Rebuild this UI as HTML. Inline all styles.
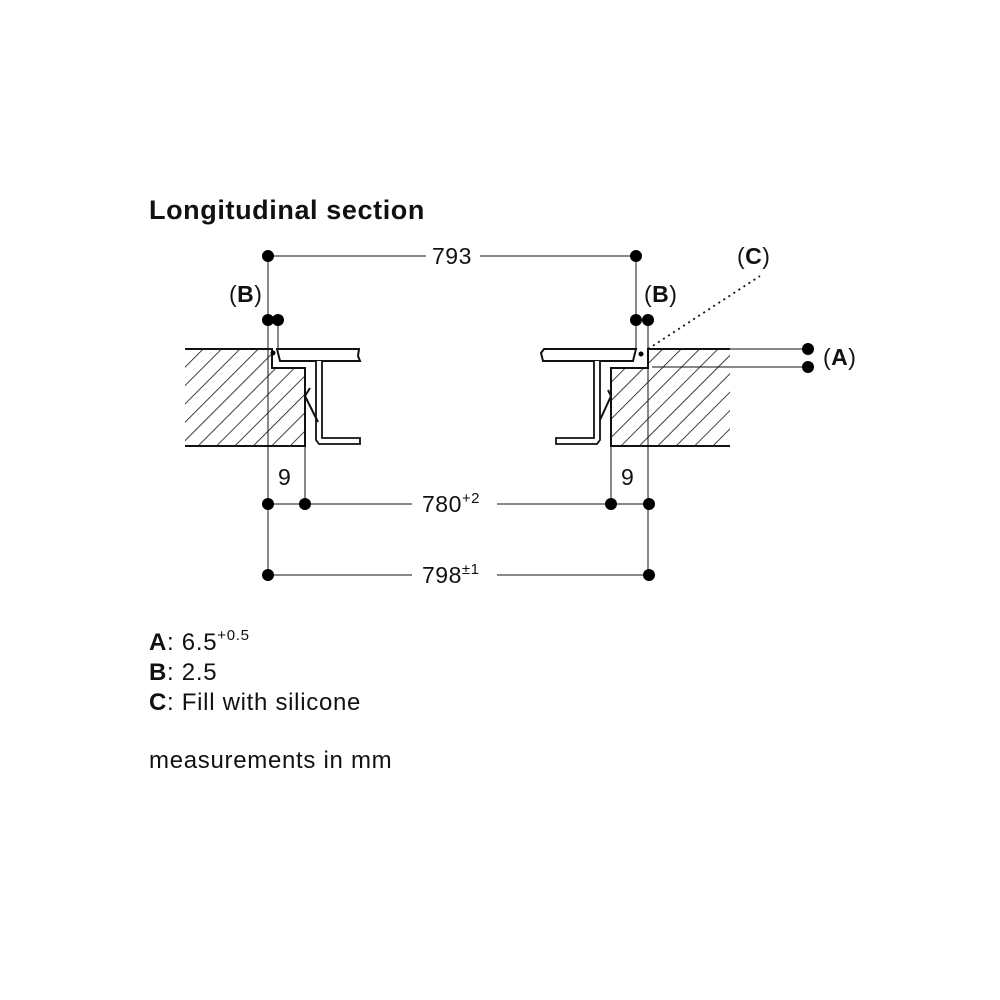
<!DOCTYPE html>
<html><head><meta charset="utf-8"><style>
html,body{margin:0;padding:0;background:#fff;}
svg{display:block;}
text{font-family:"Liberation Sans",sans-serif;fill:#111;}
</style></head><body>
<svg width="1000" height="1000" viewBox="0 0 1000 1000" xmlns="http://www.w3.org/2000/svg">
<defs>
<pattern id="h" patternUnits="userSpaceOnUse" width="13" height="13" patternTransform="rotate(45)">
<line x1="0" y1="0" x2="0" y2="13" stroke="#111" stroke-width="1.6"/>
</pattern>
</defs>
<text x="149" y="219" font-size="27" font-weight="bold" letter-spacing="0.6">Longitudinal section</text>

<g stroke="#111" fill="none">
<g stroke-width="1">
<line x1="268" y1="256" x2="426" y2="256"/><line x1="480" y1="256" x2="636" y2="256"/>
<line x1="268" y1="256" x2="268" y2="575"/>
<line x1="278" y1="320" x2="278" y2="350"/>
<line x1="636" y1="256" x2="636" y2="350"/>
<line x1="648" y1="320" x2="648" y2="575"/>
<line x1="305" y1="446" x2="305" y2="504"/>
<line x1="611" y1="446" x2="611" y2="504"/>
<line x1="268" y1="504" x2="412" y2="504"/><line x1="497" y1="504" x2="649" y2="504"/>
<line x1="268" y1="575" x2="412" y2="575"/><line x1="497" y1="575" x2="649" y2="575"/>
<line x1="730" y1="349" x2="808" y2="349"/>
<line x1="652" y1="367" x2="808" y2="367"/>
<line x1="648" y1="349" x2="760" y2="276" stroke-dasharray="2,4" stroke-width="1.8"/>
</g>
<path d="M185 349 H272 V368 H305 V446 H185 Z" fill="url(#h)" stroke="none"/>
<path d="M185 349 H272 V368 H305 V446 H185" stroke-width="2"/>
<path d="M730 349 H648 V368 H611 V446 H730 Z" fill="url(#h)" stroke="none"/>
<path d="M730 349 H648 V368 H611 V446 H730" stroke-width="2"/>
<path d="M277 349 H359 L358 356 L360 361 H280 Z" fill="#fff" stroke-width="2"/>
<path d="M636 349 H544 L541 353 L543 361 H633 Z" fill="#fff" stroke-width="2"/>
<path d="M316 361 V440 L319 444 H360 V438 H322 V361" fill="#fff" stroke-width="1.8"/>
<path d="M310 388 L305 396 L318 422" stroke-width="2"/>
<path d="M600 361 V440 L597 444 H556 V438 H594 V361" fill="#fff" stroke-width="1.8"/>
<path d="M608 390 L611 396 L600 420" stroke-width="2"/>
</g>
<g fill="#000">
<circle cx="268" cy="256" r="6"/><circle cx="636" cy="256" r="6"/>
<circle cx="268" cy="320" r="6"/><circle cx="278" cy="320" r="6"/>
<circle cx="636" cy="320" r="6"/><circle cx="648" cy="320" r="6"/>
<circle cx="268" cy="504" r="6"/><circle cx="305" cy="504" r="6"/>
<circle cx="611" cy="504" r="6"/><circle cx="649" cy="504" r="6"/>
<circle cx="268" cy="575" r="6"/><circle cx="649" cy="575" r="6"/>
<circle cx="808" cy="349" r="6"/><circle cx="808" cy="367" r="6"/>
<circle cx="273" cy="353" r="2.5"/><circle cx="641" cy="354" r="2.5"/>
</g>
<g font-size="23" letter-spacing="0.5">
<text x="432" y="264">793</text>
<text x="229" y="302"><tspan>(</tspan><tspan font-weight="bold">B</tspan><tspan>)</tspan></text>
<text x="644" y="302"><tspan>(</tspan><tspan font-weight="bold">B</tspan><tspan>)</tspan></text>
<text x="737" y="264"><tspan>(</tspan><tspan font-weight="bold">C</tspan><tspan>)</tspan></text>
<text x="823" y="365"><tspan>(</tspan><tspan font-weight="bold">A</tspan><tspan>)</tspan></text>
<text x="278" y="485">9</text>
<text x="621" y="485">9</text>
<text x="422" y="512">780<tspan font-size="15" dy="-9">+2</tspan></text>
<text x="422" y="583">798<tspan font-size="15" dy="-9">±1</tspan></text>
</g>
<g font-size="24" letter-spacing="0.7">
<text x="149" y="650"><tspan font-weight="bold">A</tspan>: 6.5<tspan font-size="15" dy="-10">+0.5</tspan></text>
<text x="149" y="680"><tspan font-weight="bold">B</tspan>: 2.5</text>
<text x="149" y="710"><tspan font-weight="bold">C</tspan>: Fill with silicone</text>
<text x="149" y="768">measurements in mm</text>
</g>
</svg>
</body></html>
